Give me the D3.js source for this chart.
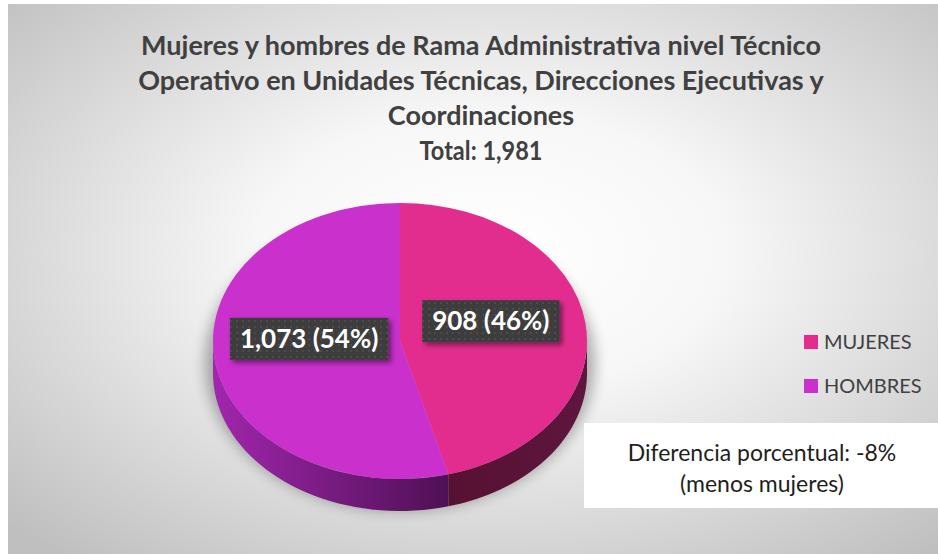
<!DOCTYPE html>
<html>
<head>
<meta charset="utf-8">
<script src="https://cdn.jsdelivr.net/npm/d3@7"></script>
<style>
  html, body { margin: 0; padding: 0; background: #ffffff; }
  svg { display: block; }
  text { font-family: Lato, "Open Sans", sans-serif; }
</style>
</head>
<body>
<svg id="chart" width="938" height="554"></svg>
<script>
// data
var categories = ["MUJERES", "HOMBRES"];
var values = [908, 1073];
var colors = ["#e22d8e", "#c930cc"];
var titleLines = [
  "Mujeres y hombres de Rama Administrativa nivel Técnico",
  "Operativo en Unidades Técnicas, Direcciones Ejecutivas y",
  "Coordinaciones"
];
var noteLines = ["Diferencia porcentual: -8%", "(menos mujeres)"];

var total = d3.sum(values);

var svg = d3.select("#chart");
var width = +svg.attr("width");
var height = +svg.attr("height");

// squeeze text a little where Lato runs wider than the original font
function condense(sel, factor) {
  sel.each(function() {
    var len = this.getComputedTextLength();
    d3.select(this).attr("textLength", len * factor).attr("lengthAdjust", "spacingAndGlyphs");
  });
}

var defs = svg.append("defs");

// background gradient
var bg = defs.append("radialGradient")
  .attr("id", "bgGrad")
  .attr("cx", 0.52).attr("cy", 0.45).attr("r", 0.72);
bg.append("stop").attr("offset", "0%").attr("stop-color", "#ffffff");
bg.append("stop").attr("offset", "35%").attr("stop-color", "#f7f7f7");
bg.append("stop").attr("offset", "100%").attr("stop-color", "#bfbfbf");

// dotted fill for the data labels
var pat = defs.append("pattern")
  .attr("id", "dots")
  .attr("width", 6).attr("height", 6)
  .attr("patternUnits", "userSpaceOnUse");
pat.append("rect").attr("width", 6).attr("height", 6).attr("fill", "#3d3d3d");
pat.append("circle").attr("cx", 3).attr("cy", 3).attr("r", 0.8).attr("fill", "#5e5e5e");

var blur = defs.append("filter").attr("id", "blur")
  .attr("x", "-20%").attr("y", "-20%").attr("width", "140%").attr("height", "140%");
blur.append("feGaussianBlur").attr("stdDeviation", 7);

var boxShadow = defs.append("filter").attr("id", "boxShadow")
  .attr("x", "-20%").attr("y", "-30%").attr("width", "150%").attr("height", "170%");
boxShadow.append("feDropShadow")
  .attr("dx", 3).attr("dy", 3).attr("stdDeviation", 2.5)
  .attr("flood-color", "#000").attr("flood-opacity", 0.45);

// side gradients
var gH = defs.append("linearGradient").attr("id", "sideH")
  .attr("gradientUnits", "userSpaceOnUse")
  .attr("x1", 213).attr("x2", 455).attr("y1", 0).attr("y2", 0);
gH.append("stop").attr("offset", "0%").attr("stop-color", "#a126ad");
gH.append("stop").attr("offset", "100%").attr("stop-color", "#4c1052");
var gM = defs.append("linearGradient").attr("id", "sideM")
  .attr("gradientUnits", "userSpaceOnUse")
  .attr("x1", 450).attr("x2", 590).attr("y1", 0).attr("y2", 0);
gM.append("stop").attr("offset", "0%").attr("stop-color", "#561132");
gM.append("stop").attr("offset", "100%").attr("stop-color", "#5f163f");
var sideFills = ["url(#sideM)", "url(#sideH)"];

// background frame
svg.append("rect")
  .attr("x", 8).attr("y", 4)
  .attr("width", width - 8).attr("height", height - 4)
  .attr("fill", "url(#bgGrad)");

// title
var title = svg.append("g").attr("class", "title");
titleLines.concat(["Total: " + d3.format(",")(total)]).forEach(function(t, i) {
  title.append("text")
    .attr("x", 481)
    .attr("y", 55 + i * 35)
    .attr("text-anchor", "middle")
    .attr("font-size", "27px")
    .attr("font-weight", "bold")
    .attr("fill", "#404040")
    .text(t);
});
condense(title.selectAll("text").filter(function(d, i) { return i === 3; }), 0.87);

// pie
var cx = 400, cy = 341, rx = 187, ry = 138, depth = 32;
var pie = d3.pie().sort(null).value(function(d) { return d; });
var arcs = pie(values);
var arc = d3.arc().innerRadius(0).outerRadius(rx);

function pt(a, dy) {
  return [cx + rx * Math.sin(a), cy - ry * Math.cos(a) + (dy || 0)];
}

// soft shadow under the pie
svg.append("ellipse")
  .attr("cx", cx).attr("cy", cy + depth / 2 + 6)
  .attr("rx", rx + 8).attr("ry", ry + 10)
  .attr("fill", "#000").attr("opacity", 0.3)
  .attr("filter", "url(#blur)");

// sides (front half only)
var sides = svg.append("g").attr("class", "sides");
arcs.forEach(function(d, i) {
  var a0 = Math.max(d.startAngle, Math.PI / 2);
  var a1 = Math.min(d.endAngle, 3 * Math.PI / 2);
  if (a1 <= a0) return;
  var steps = d3.range(0, 41).map(function(k) { return a0 + (a1 - a0) * k / 40; });
  var top = steps.map(function(a) { return pt(a, 0); });
  var bottom = steps.slice().reverse().map(function(a) { return pt(a, depth); });
  sides.append("path")
    .attr("d", d3.line()(top.concat(bottom)) + "Z")
    .attr("fill", sideFills[i]);
});

// top face
svg.append("g")
  .attr("transform", "translate(" + cx + "," + cy + ") scale(1," + (ry / rx) + ")")
  .selectAll("path")
  .data(arcs)
  .enter().append("path")
  .attr("d", arc)
  .attr("fill", function(d, i) { return colors[i]; });

// data labels
var labelArc = d3.arc().innerRadius(rx * 0.49).outerRadius(rx * 0.49);
var labels = svg.append("g").attr("class", "labels");
arcs.forEach(function(d, i) {
  var c = labelArc.centroid(d);
  var x = cx + c[0];
  var y = cy + c[1] * (ry / rx) - 11;
  var txt = d3.format(",")(d.value) + " (" + Math.round(d.value / total * 100) + "%)";
  var g = labels.append("g");
  var rect = g.append("rect").attr("fill", "url(#dots)").attr("filter", "url(#boxShadow)");
  var t = g.append("text")
    .attr("x", x).attr("y", y + 9)
    .attr("text-anchor", "middle")
    .attr("font-size", "26px")
    .attr("font-weight", "bold")
    .attr("fill", "#ffffff")
    .text(txt);
  var w = t.node().getComputedTextLength() + 20;
  rect.attr("x", x - w / 2).attr("y", y - 21).attr("width", w).attr("height", 42);
});

// legend
var legend = svg.append("g").attr("class", "legend");
categories.forEach(function(c, i) {
  var y = 342 + i * 44;
  legend.append("rect")
    .attr("x", 804).attr("y", y - 7)
    .attr("width", 14).attr("height", 14)
    .attr("fill", colors[i]);
  legend.append("text")
    .attr("x", 824).attr("y", y + 7)
    .attr("font-size", "20px")
    .attr("fill", "#404040")
    .text(c);
});

// note box
svg.append("rect")
  .attr("x", 584).attr("y", 423)
  .attr("width", width - 584).attr("height", 85)
  .attr("fill", "#ffffff");
var note = svg.append("g");
noteLines.forEach(function(t, i) {
  note.append("text")
    .attr("x", 762).attr("y", 461 + i * 31)
    .attr("text-anchor", "middle")
    .attr("font-size", "23px")
    .attr("fill", "#1e1e1e")
    .text(t);
});
</script>
</body>
</html>
